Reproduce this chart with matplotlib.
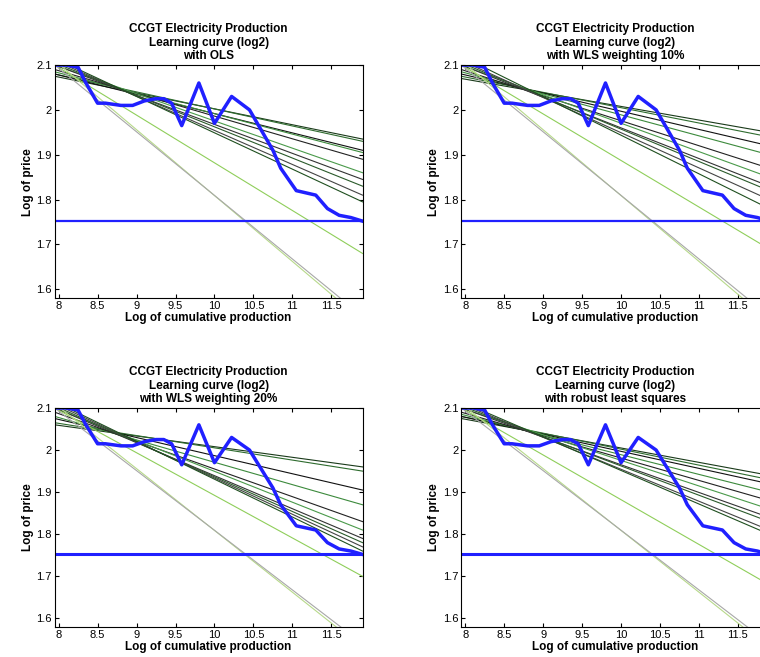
import matplotlib
matplotlib.use('Agg')
import matplotlib.pyplot as plt
import numpy as np

plt.rcParams['font.family'] = ['Liberation Sans', 'DejaVu Sans']

# dane krzywej uczenia
x_data = [7.95, 8.1, 8.25, 8.35, 8.5, 8.6, 8.8, 8.95, 9.1, 9.25, 9.35, 9.45, 9.58,
          9.8, 10.0, 10.22, 10.45, 10.55, 10.75, 10.85, 11.05, 11.3, 11.45, 11.6, 11.75, 11.9]
y_data = [2.1, 2.1, 2.095, 2.06, 2.015, 2.015, 2.01, 2.01, 2.02, 2.025, 2.025, 2.015, 1.965,
          2.06, 1.97, 2.03, 2.0, 1.97, 1.91, 1.87, 1.82, 1.81, 1.78, 1.765, 1.76, 1.752]
floor_level = 1.752

titles = ['CCGT Electricity Production\nLearning curve (log2)\nwith OLS',
          'CCGT Electricity Production\nLearning curve (log2)\nwith WLS weighting 10%',
          'CCGT Electricity Production\nLearning curve (log2)\nwith WLS weighting 20%',
          'CCGT Electricity Production\nLearning curve (log2)\nwith robust least squares']

# poczatki (x=7.95) i konce (x=11.9) prostych dopasowania
fit_starts = [
    [2.075, 2.08, 2.08, 2.085, 2.09, 2.1, 2.1, 2.105, 2.11, 2.115, 2.1, 2.11, 2.1],
    [2.07, 2.075, 2.08, 2.085, 2.09, 2.1, 2.1, 2.105, 2.11, 2.12, 2.1, 2.11, 2.1],
    [2.06, 2.065, 2.075, 2.08, 2.09, 2.1, 2.1, 2.105, 2.11, 2.115, 2.1, 2.11, 2.1],
    [2.075, 2.08, 2.08, 2.085, 2.09, 2.1, 2.1, 2.105, 2.11, 2.115, 2.1, 2.11, 2.1],
]
fit_ends = [
    [1.935, 1.93, 1.91, 1.905, 1.89, 1.86, 1.845, 1.83, 1.81, 1.795, 1.68, 1.53, 1.54],
    [1.95, 1.94, 1.92, 1.90, 1.87, 1.85, 1.83, 1.82, 1.80, 1.78, 1.69, 1.53, 1.54],
    [1.96, 1.95, 1.905, 1.87, 1.83, 1.81, 1.79, 1.78, 1.77, 1.76, 1.70, 1.53, 1.54],
    [1.94, 1.93, 1.92, 1.90, 1.88, 1.86, 1.84, 1.83, 1.81, 1.80, 1.68, 1.53, 1.54],
]
fit_colors = ['#1a3a1a', '#2e6b2e', '#111111', '#3c8a3c', '#222222', '#4a9a4a', '#333333',
              '#2b5b2b', '#444444', '#1f4f1f', '#8fce5a', '#b7d98a', '#a8a8a8']

positions = [[0.072, 0.546, 0.405, 0.355], [0.607, 0.546, 0.405, 0.355],
             [0.072, 0.046, 0.405, 0.333], [0.607, 0.046, 0.405, 0.333]]

fig = plt.figure(figsize=(7.6, 6.57), dpi=100)
for k in range(4):
    ax = fig.add_axes(positions[k])
    for s, e, c in zip(fit_starts[k], fit_ends[k], fit_colors):
        ax.plot([7.95, 11.9], [s, e], color=c, lw=0.8)
    ax.axhline(floor_level, color='#2020ff', lw=1.6 if k < 2 else 2.2)
    ax.plot(x_data, y_data, color='#2020ff', lw=2.5)
    ax.set_xlim(7.95, 11.9)
    ax.set_ylim(1.58, 2.1)
    ax.set_xticks([8, 8.5, 9, 9.5, 10, 10.5, 11, 11.5])
    ax.set_xticklabels(['8', '8.5', '9', '9.5', '10', '10.5', '11', '11.5'])
    ax.set_yticks([1.6, 1.7, 1.8, 1.9, 2.0, 2.1])
    ax.set_yticklabels(['1.6', '1.7', '1.8', '1.9', '2', '2.1'])
    ax.tick_params(labelsize=8, direction='in', length=3, top=True, right=True, pad=2)
    ax.set_title(titles[k], fontsize=8.5, fontweight='bold', pad=4)
    ax.set_xlabel('Log of cumulative production', fontsize=8.5, fontweight='bold', labelpad=1)
    ax.set_ylabel('Log of price', fontsize=8.5, fontweight='bold', labelpad=2)

fig.savefig('out.png', dpi=100)
